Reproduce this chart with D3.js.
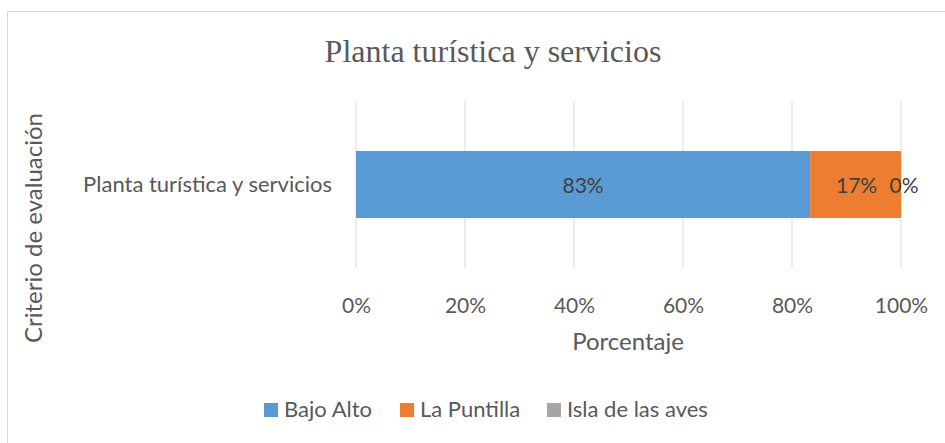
<!DOCTYPE html>
<html><head><meta charset="utf-8">
<script src="https://cdn.jsdelivr.net/npm/d3@7"></script>
<style>body{margin:0;background:#fff}svg{display:block}</style>
</head><body>
<script>
const categories = ["Planta turística y servicios"];
const seriesNames = ["Bajo Alto", "La Puntilla", "Isla de las aves"];
const seriesValues = [[83.33], [16.67], [0]];
const seriesColors = ["#5B9BD5", "#ED7D31", "#A5A5A5"];
const tickValues = [0, 20, 40, 60, 80, 100];

const W = 945, H = 443;
const svg = d3.select("body").append("svg").attr("width", W).attr("height", H);
const font = "Lato, 'Open Sans', sans-serif";
const txt = "#595959";

svg.append("rect").attr("x", 7.5).attr("y", 11.5).attr("width", W).attr("height", H)
  .attr("fill", "#fff").attr("stroke", "#D9D9D9").attr("stroke-width", 1);

svg.append("text").attr("x", 493).attr("y", 62).attr("text-anchor", "middle")
  .attr("font-family", "'Liberation Serif', 'Times New Roman', serif").attr("font-size", 32)
  .attr("fill", txt).text("Planta turística y servicios");

const x = d3.scaleLinear().domain([0, 100]).range([356, 901]);

// gridlines
svg.append("g").selectAll("line").data(tickValues).join("line")
  .attr("x1", d => x(d)).attr("x2", d => x(d)).attr("y1", 101).attr("y2", 268)
  .attr("stroke", "#D9D9D9").attr("stroke-width", 1);

// stacked bars
const stackData = categories.map((c, i) => {
  const o = {cat: c};
  seriesNames.forEach((s, j) => o[s] = seriesValues[j][i]);
  return o;
});
const stack = d3.stack().keys(seriesNames)(stackData);
const barTop = 151, barH = 67;
const gS = svg.append("g").selectAll("g").data(stack).join("g").attr("fill", (d, i) => seriesColors[i]);
gS.selectAll("rect").data(d => d).join("rect")
  .attr("x", d => x(d[0])).attr("width", d => x(d[1]) - x(d[0]))
  .attr("y", barTop).attr("height", barH);

// labels
stack.forEach((s, i) => {
  s.forEach(d => {
    let cx = (x(d[0]) + x(d[1])) / 2;
    if (i === 1) cx += 1;
    if (i === 2) cx = x(d[1]) + 3;
    svg.append("text").attr("x", cx).attr("y", barTop + barH / 2 + 8)
      .attr("text-anchor", "middle").attr("font-family", font).attr("font-size", 21)
      .attr("fill", "#404040").text(Math.round(d[1] - d[0]) + "%");
  });
});

// x axis tick labels
const xAxis = d3.axisBottom(x).tickValues(tickValues).tickFormat(d => d + "%").tickSize(0).tickPadding(0);
const gx = svg.append("g").attr("transform", "translate(0,298)").call(xAxis);
gx.select(".domain").remove();
gx.selectAll("text").attr("font-family", font).attr("font-size", 21).attr("fill", txt);

// category label
svg.append("text").attr("x", 332).attr("y", 192).attr("text-anchor", "end")
  .attr("font-family", font).attr("font-size", 22).attr("fill", txt).text(categories[0]);

// axis titles
svg.append("text").attr("x", 628).attr("y", 350).attr("text-anchor", "middle")
  .attr("font-family", font).attr("font-size", 24).attr("fill", txt).text("Porcentaje");
svg.append("text").attr("transform", "translate(42,228) rotate(-90)").attr("text-anchor", "middle")
  .attr("font-family", font).attr("font-size", 24).attr("fill", txt).text("Criterio de evaluación");

// legend
const legX = [264, 400, 547];
seriesNames.forEach((s, i) => {
  svg.append("rect").attr("x", legX[i]).attr("y", 403).attr("width", 14).attr("height", 14).attr("fill", seriesColors[i]);
  svg.append("text").attr("x", legX[i] + 20).attr("y", 417).attr("font-family", font).attr("font-size", 22)
    .attr("fill", txt).text(s);
});
</script>
</body></html>
